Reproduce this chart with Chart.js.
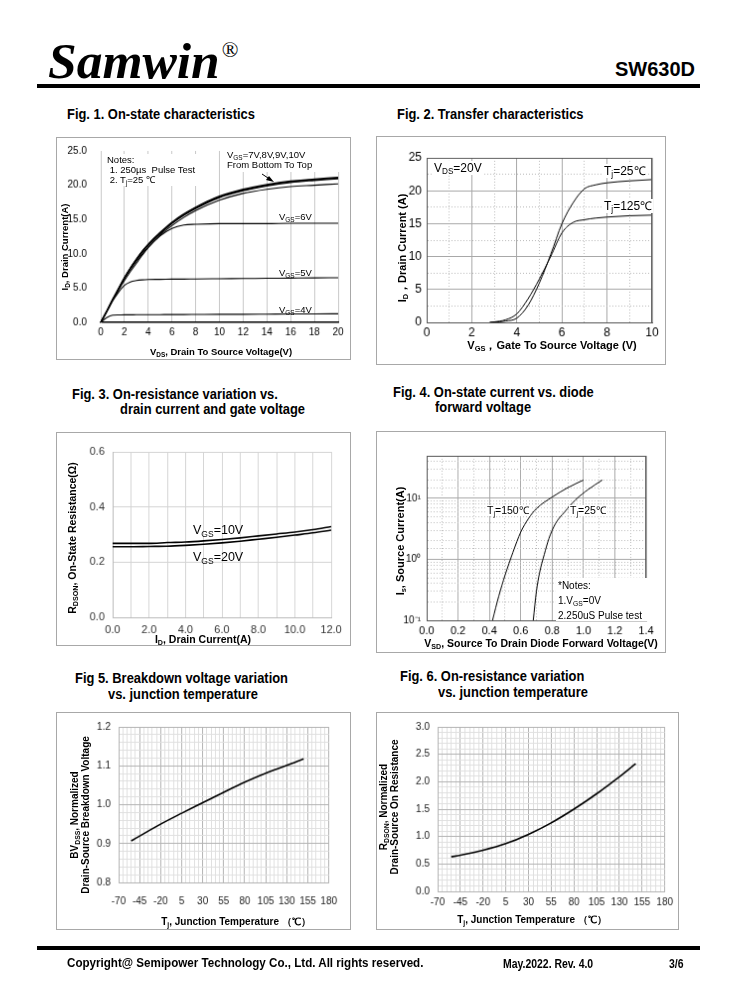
<!DOCTYPE html>
<html>
<head>
<meta charset="utf-8">
<script src="https://cdn.jsdelivr.net/npm/chart.js@4.4.0/dist/chart.umd.min.js"></script>
<style>
html, body { margin: 0; padding: 0; background: #fff; }
body { width: 738px; height: 1000px; position: relative; overflow: hidden; font-family: "Liberation Sans", Arial, sans-serif; color: #000; }
.t { position: absolute; white-space: nowrap; line-height: 1; }
.b { font-weight: bold; }
.n { font-family: "Liberation Sans Narrow", "Arial Narrow", "Liberation Sans", sans-serif; font-weight: bold; transform-origin: 0 0; }
.cx { transform: translateX(-50%); }
.ry { transform: translate(-50%, -50%) rotate(-90deg); text-align: center; }
.w { background: #fff; }
sub { font-size: 0.68em; vertical-align: -0.3em; line-height: 0; }
canvas.c { position: absolute; border: 1px solid #a8a8a8; }
.rule { position: absolute; left: 37px; width: 663px; height: 4px; background: #000; }
.ft { font-size: 14.5px; transform: scaleX(0.89); }
</style>
</head>
<body>

<!-- CABECALHO -->
<div class="t" style="left:48px;top:35px;font-family:'Liberation Serif',serif;font-weight:bold;font-style:italic;font-size:51.5px;">Samwin<span style="font-size:22px;font-style:normal;font-weight:normal;vertical-align:top;position:relative;top:4px;left:2px;">®</span></div>
<div class="t b" style="right:43px;top:59px;font-size:20px;">SW630D</div>
<div class="rule" style="top:84px;"></div>

<!-- TITULOS -->
<div class="t n ft" style="left:67px;top:107px;">Fig. 1. On-state characteristics</div>
<div class="t n ft" style="left:397px;top:107px;">Fig. 2. Transfer characteristics</div>
<div class="t n ft" style="left:72px;top:387px;">Fig. 3. On-resistance variation vs.</div>
<div class="t n ft" style="left:120px;top:402px;">drain current and gate voltage</div>
<div class="t n ft" style="left:393px;top:385px;">Fig. 4. On-state current vs. diode</div>
<div class="t n ft" style="left:435px;top:400px;">forward voltage</div>
<div class="t n ft" style="left:75px;top:671px;">Fig 5. Breakdown voltage variation</div>
<div class="t n ft" style="left:108px;top:687px;">vs. junction temperature</div>
<div class="t n ft" style="left:400px;top:669px;">Fig. 6. On-resistance variation</div>
<div class="t n ft" style="left:438px;top:685px;">vs. junction temperature</div>

<canvas class="c" id="fig1"></canvas>
<canvas class="c" id="fig2"></canvas>
<canvas class="c" id="fig3"></canvas>
<canvas class="c" id="fig4"></canvas>
<canvas class="c" id="fig5"></canvas>
<canvas class="c" id="fig6"></canvas>

<!-- FIG 1 TEXTOS -->
<div class="t w" style="left:104px;top:154px;width:96px;height:32px;"></div>
<div class="t" style="left:107px;top:155px;font-size:9.5px;line-height:10px;">Notes:<br>&nbsp;1. 250µs&nbsp; Pulse Test<br>&nbsp;2. T<sub>j</sub>=25 ℃</div>
<div class="t w" style="left:224px;top:150px;width:118px;height:22px;font-size:9.5px;line-height:10px;padding-left:3px;">V<sub>GS</sub>=7V,8V,9V,10V<br>From Bottom To Top</div>
<svg class="t" style="left:0;top:0;" width="738" height="1000"><line x1="262" y1="174" x2="271" y2="180" stroke="#000" stroke-width="1"/><polygon points="274,182 266,180 269,176" fill="#000"/></svg>
<div class="t" style="left:279px;top:212px;font-size:9.5px;">V<sub>GS</sub>=6V</div>
<div class="t" style="left:279px;top:268px;font-size:9.5px;">V<sub>GS</sub>=5V</div>
<div class="t" style="left:279px;top:305px;font-size:9.5px;">V<sub>GS</sub>=4V</div>
<div class="t b cx" style="left:221px;top:347px;font-size:9.5px;">V<sub>DS</sub>, Drain To Source Voltage(V)</div>
<div class="t b ry" style="left:65px;top:247px;font-size:9.5px;">I<sub>D</sub>, Drain Current(A)</div>

<!-- FIG 2 TEXTOS -->
<div class="t w" style="left:432px;top:161px;font-size:12px;padding:1px 2px;">V<sub>DS</sub>=20V</div>
<div class="t w" style="left:603px;top:164px;font-size:12px;padding:1px 1px;">T<sub>j</sub>=25℃</div>
<div class="t w" style="left:603px;top:199px;font-size:12px;padding:1px 1px;">T<sub>j</sub>=125℃</div>
<div class="t b cx" style="left:552px;top:340px;font-size:11px;">V<sub>GS</sub>，Gate To Source Voltage (V)</div>
<div class="t b ry" style="left:402px;top:248px;font-size:11px;">I<sub>D</sub>，Drain Current (A)</div>

<!-- FIG 3 TEXTOS -->
<div class="t" style="left:193px;top:524px;font-size:12.5px;">V<sub>GS</sub>=10V</div>
<div class="t" style="left:193px;top:551px;font-size:12.5px;">V<sub>GS</sub>=20V</div>
<div class="t b cx" style="left:203px;top:634px;font-size:10.5px;">I<sub>D</sub>, Drain Current(A)</div>
<div class="t b ry" style="left:72px;top:538px;font-size:10.5px;">R<sub>DSON</sub>, On-State Resistance(Ω)</div>

<!-- FIG 4 TEXTOS -->
<div class="t w" style="left:486px;top:505px;font-size:10.5px;padding:0 1px;">T<sub>j</sub>=150℃</div>
<div class="t w" style="left:569px;top:505px;font-size:10.5px;padding:0 1px;">T<sub>j</sub>=25℃</div>
<div class="t w" style="left:556px;top:578px;width:90px;height:43px;font-size:10px;line-height:15px;padding-left:2px;">*Notes:<br>1.V<sub>GS</sub>=0V<br>2.250uS Pulse test</div>
<div class="t b cx" style="left:541px;top:638px;font-size:10.5px;">V<sub>SD</sub>, Source To Drain Diode Forward Voltage(V)</div>
<div class="t b ry" style="left:400px;top:541px;font-size:11px;">I<sub>s</sub>, Source Current(A)</div>

<!-- FIG 5 TEXTOS -->
<div class="t b cx" style="left:236px;top:917px;font-size:10px;">T<sub>j</sub>, Junction Temperature （℃）</div>
<div class="t b ry" style="left:80px;top:815px;font-size:10px;line-height:11px;">BV<sub>DSS</sub>, Normalized<br>Drain-Source Breakdown Voltage</div>

<!-- FIG 6 TEXTOS -->
<div class="t b cx" style="left:532px;top:915px;font-size:10px;">T<sub>j</sub>, Junction Temperature （℃）</div>
<div class="t b ry" style="left:389px;top:807px;font-size:10px;line-height:11px;">R<sub>DSON</sub>, Normalized<br>Drain-Source On Resistance</div>

<!-- RODAPE -->
<div class="rule" style="top:946px;"></div>
<div class="t n" style="left:67px;top:956px;font-size:13.5px;transform:scaleX(0.86);">Copyright@ Semipower Technology Co., Ltd. All rights reserved.</div>
<div class="t n" style="left:503px;top:958px;font-size:12px;transform:scaleX(0.87);">May.2022. Rev. 4.0</div>
<div class="t n" style="left:669px;top:958px;font-size:12px;transform:scaleX(0.87);">3/6</div>

<script>
// DADOS FIG 1 - ON-STATE
const fig1Vds = [0, 0.5, 1, 1.5, 2, 2.5, 3, 3.5, 4, 5, 6, 7, 8, 10, 12, 14, 16, 18, 20];
const fig1Vgs10 = [0, 1.6, 3.3, 4.9, 6.5, 7.9, 9.2, 10.4, 11.4, 13.1, 14.6, 15.8, 16.8, 18.4, 19.4, 20.1, 20.6, 20.9, 21.15];
const fig1Vgs9 = [0, 1.6, 3.3, 4.9, 6.5, 7.9, 9.2, 10.3, 11.3, 13.0, 14.5, 15.7, 16.7, 18.3, 19.3, 20.0, 20.5, 20.8, 21.05];
const fig1Vgs8 = [0, 1.6, 3.3, 4.9, 6.5, 7.9, 9.1, 10.3, 11.3, 12.9, 14.4, 15.6, 16.6, 18.2, 19.2, 19.9, 20.4, 20.7, 20.95];
const fig1Vgs7 = [0, 1.6, 3.2, 4.8, 6.4, 7.7, 8.9, 10.0, 11.0, 12.7, 14.1, 15.3, 16.3, 17.8, 18.8, 19.4, 19.8, 20.0, 20.2];
const fig1Vgs6 = [0, 1.6, 3.2, 4.7, 6.1, 7.4, 8.6, 9.8, 10.9, 12.6, 13.7, 14.2, 14.3, 14.4, 14.4, 14.4, 14.45, 14.45, 14.45];
const fig1Vgs5 = [0, 1.5, 3.1, 4.4, 5.4, 5.9, 6.1, 6.2, 6.25, 6.27, 6.3, 6.31, 6.33, 6.36, 6.39, 6.42, 6.45, 6.48, 6.5];
const fig1Vgs4 = [0, 0.7, 1.05, 1.08, 1.1, 1.1, 1.11, 1.11, 1.12, 1.13, 1.14, 1.14, 1.15, 1.17, 1.18, 1.2, 1.22, 1.23, 1.25];

// DADOS FIG 2 - TRANSFER
const fig2Vgs = [2.8, 3.0, 3.5, 4.0, 4.5, 5.0, 5.5, 6.0, 6.5, 7.0, 7.5, 8.0, 9.0, 10.0];
const fig2Tj25 = [0, 0.03, 0.2, 0.65, 2.6, 6.0, 10.3, 15.0, 18.2, 20.3, 20.9, 21.2, 21.5, 21.7];
const fig2Tj125 = [0, 0.08, 0.4, 1.3, 3.6, 6.6, 10.0, 13.6, 15.2, 15.6, 15.85, 16.0, 16.2, 16.3];

// DADOS FIG 3 - RDSON VS ID
const fig3Id = [0, 1, 2, 3, 4, 5, 6, 7, 8, 9, 10, 11, 12];
const fig3Vgs10 = [0.268, 0.268, 0.268, 0.271, 0.273, 0.277, 0.282, 0.288, 0.295, 0.302, 0.309, 0.318, 0.329];
const fig3Vgs20 = [0.256, 0.256, 0.257, 0.258, 0.261, 0.265, 0.27, 0.276, 0.283, 0.29, 0.298, 0.306, 0.316];

// DADOS FIG 4 - DIODO
const fig4Vsd150 = [0.42, 0.46, 0.50, 0.55, 0.60, 0.65, 0.70, 0.80, 0.90, 1.00];
const fig4Is150 = [0.1, 0.25, 0.55, 1.3, 2.8, 4.7, 6.8, 10.5, 15, 20];
const fig4Vsd25 = [0.68, 0.70, 0.72, 0.75, 0.78, 0.82, 0.88, 0.95, 1.03, 1.12];
const fig4Is25 = [0.1, 0.3, 0.6, 1.2, 2.2, 3.8, 6.0, 9.5, 14, 20];
const fig4Decades = [0.1, 1, 10];
const fig4DecadeLabels = ["10⁻¹", "10⁰", "10¹"];

// DADOS FIG 5 - BVDSS
const fig5Tj = [-55, -20, 5, 30, 55, 80, 105, 130, 150];
const fig5Bv = [0.907, 0.95, 0.978, 1.005, 1.032, 1.058, 1.081, 1.101, 1.118];

// DADOS FIG 6 - RDSON VS TJ
const fig6Tj = [-55, -45, -20, 5, 30, 55, 80, 105, 130, 148];
const fig6Rds = [0.63, 0.66, 0.75, 0.87, 1.04, 1.25, 1.5, 1.78, 2.09, 2.33];

// TICKS DE TEMPERATURA
const tempTicks = [-70, -45, -20, 5, 30, 55, 80, 105, 130, 155, 180];

Chart.defaults.font.family = "'Liberation Sans', Arial, sans-serif";
Chart.defaults.color = "#000";

// MOLDURA DA AREA DO GRAFICO
const frame = {
  id: "frame",
  afterDraw(chart, args, opts) {
    if (!opts || !opts.color) return;
    const a = chart.chartArea;
    const c = chart.ctx;
    c.save();
    c.strokeStyle = opts.color;
    c.lineWidth = opts.width || 1;
    c.strokeRect(a.left + 0.5, a.top + 0.5, a.right - a.left - 1, a.bottom - a.top);
    c.restore();
  },
};
Chart.register(frame);

const pts = (xs, ys) => xs.map((x, i) => ({ x: x, y: ys[i] }));
const near = (v, step) => Math.abs(v / step - Math.round(v / step)) < 1e-6;
const tv = (ctx) => (ctx.tick ? ctx.tick.value : 0);

function line(data, width) {
  return {
    data: data,
    showLine: true,
    pointRadius: 0,
    borderColor: "#000",
    borderWidth: width,
    cubicInterpolationMode: "monotone",
  };
}

// box e area em coordenadas da pagina: [esq, topo, dir, base]
function plotChart(id, box, area, datasets, scales, frameColor) {
  const cv = document.getElementById(id);
  cv.width = box[2] - box[0];
  cv.height = box[3] - box[1];
  cv.style.left = box[0] - 1 + "px";
  cv.style.top = box[1] - 1 + "px";
  scales.x.afterFit = (s) => { s.height = box[3] - area[3]; };
  scales.y.afterFit = (s) => { s.width = area[0] - box[0]; };
  return new Chart(cv, {
    type: "scatter",
    data: { datasets: datasets },
    options: {
      responsive: false,
      animation: false,
      events: [],
      layout: { padding: { top: area[1] - box[1], right: box[2] - area[2], bottom: 0, left: 0 } },
      plugins: { legend: { display: false }, tooltip: { enabled: false }, frame: { color: frameColor } },
      scales: scales,
    },
  });
}

// FIG 1
plotChart("fig1", [57, 138, 352, 361], [101, 151, 340, 324], [
  line(pts(fig1Vds, fig1Vgs10), 1.3),
  line(pts(fig1Vds, fig1Vgs9), 1.3),
  line(pts(fig1Vds, fig1Vgs8), 1.3),
  line(pts(fig1Vds, fig1Vgs7), 1.1),
  line(pts(fig1Vds, fig1Vgs6), 1.1),
  line(pts(fig1Vds, fig1Vgs5), 1.1),
  line(pts(fig1Vds, fig1Vgs4), 1.1),
], {
  x: {
    type: "linear", min: 0, max: 20,
    ticks: { stepSize: 2, font: { size: 10 }, padding: 4, maxRotation: 0 },
    grid: { color: "#c8c8c8", drawTicks: false },
    border: { color: "#000", width: 1.5 },
  },
  y: {
    type: "linear", min: 0, max: 25,
    ticks: { stepSize: 5, font: { size: 10 }, padding: 6, callback: (v) => v.toFixed(1) },
    grid: { display: false },
    border: { color: "#c8c8c8" },
  },
});

// FIG 2
plotChart("fig2", [377, 137, 667, 366], [427, 158, 654, 324], [
  line(pts(fig2Vgs, fig2Tj25), 1),
  line(pts(fig2Vgs, fig2Tj125), 1),
], {
  x: {
    type: "linear", min: 0, max: 10,
    ticks: { stepSize: 1, autoSkip: false, maxRotation: 0, font: { size: 12 }, padding: 3, callback: (v) => (near(v, 2) ? String(v) : "") },
    grid: { color: (c) => (near(tv(c), 2) ? "#a8a8a8" : "#b8b8b8"), drawTicks: false },
    border: { color: "#555", dash: (c) => (near(tv(c), 2) ? [] : [1, 2]) },
  },
  y: {
    type: "linear", min: 0, max: 25,
    ticks: { stepSize: 2.5, autoSkip: false, font: { size: 12 }, padding: 5, callback: (v) => (near(v, 5) ? String(v) : "") },
    grid: { color: (c) => (near(tv(c), 5) ? "#a8a8a8" : "#b8b8b8"), drawTicks: false },
    border: { color: "#555", dash: (c) => (near(tv(c), 5) ? [] : [1, 2]) },
  },
}, "#555");

// FIG 3
plotChart("fig3", [57, 433, 352, 647], [113, 452, 333, 619], [
  line(pts(fig3Id, fig3Vgs10), 1.6),
  line(pts(fig3Id, fig3Vgs20), 1.6),
], {
  x: {
    type: "linear", min: 0, max: 12,
    ticks: { stepSize: 1, autoSkip: false, maxRotation: 0, font: { size: 11 }, color: "#333", padding: 6, callback: (v) => (near(v, 2) ? v.toFixed(1) : "") },
    grid: { color: "#d4d4d4", drawTicks: false },
    border: { color: "#bbb" },
  },
  y: {
    type: "linear", min: 0, max: 0.6,
    ticks: { stepSize: 0.2, font: { size: 11 }, color: "#333", padding: 8, callback: (v) => v.toFixed(1) },
    grid: { color: "#d4d4d4", drawTicks: false },
    border: { color: "#bbb" },
  },
});

// FIG 4
plotChart("fig4", [377, 432, 667, 654], [427, 456, 648, 622], [
  line(pts(fig4Vsd150, fig4Is150), 1),
  line(pts(fig4Vsd25, fig4Is25), 1),
], {
  x: {
    type: "linear", min: 0, max: 1.4,
    ticks: { stepSize: 0.1, autoSkip: false, maxRotation: 0, font: { size: 11 }, padding: 4, callback: (v) => (near(v, 0.2) ? v.toFixed(1) : "") },
    grid: { color: (c) => (near(tv(c), 0.2) ? "#a8a8a8" : "#bcbcbc"), drawTicks: false },
    border: { color: "#555", dash: (c) => (near(tv(c), 0.2) ? [] : [1, 2]) },
  },
  y: {
    type: "logarithmic", min: 0.1, max: 50,
    ticks: {
      autoSkip: false, font: { size: 10 }, padding: 6,
      callback: (v) => {
        const i = fig4Decades.findIndex((d) => Math.abs(d - v) < 1e-9);
        return i >= 0 ? fig4DecadeLabels[i] : "";
      },
    },
    grid: { color: (c) => (fig4Decades.some((d) => Math.abs(d - tv(c)) < 1e-9) ? "#a8a8a8" : "#bcbcbc"), drawTicks: false },
    border: { color: "#555", dash: (c) => (fig4Decades.some((d) => Math.abs(d - tv(c)) < 1e-9) ? [] : [1, 2]) },
  },
}, "#555");

// FIG 5
plotChart("fig5", [57, 713, 352, 931], [119, 727, 339, 884], [
  line(pts(fig5Tj, fig5Bv), 1.6),
], {
  x: {
    type: "linear", min: -70, max: 180,
    ticks: { stepSize: 5, autoSkip: false, maxRotation: 0, minRotation: 0, font: { size: 10 }, color: "#222", padding: 13, callback: (v) => (tempTicks.includes(Math.round(v)) && near(v, 5) ? String(Math.round(v)) : "") },
    grid: { color: (c) => (tempTicks.includes(Math.round(tv(c))) ? "#b4b4b4" : "#e0e0e0"), drawTicks: false },
    border: { color: "#b4b4b4" },
  },
  y: {
    type: "linear", min: 0.8, max: 1.2,
    ticks: { stepSize: 0.02, autoSkip: false, font: { size: 10 }, color: "#222", padding: 8, callback: (v) => (near(v, 0.1) ? v.toFixed(1) : "") },
    grid: { color: (c) => (near(tv(c), 0.1) ? "#b4b4b4" : "#e0e0e0"), drawTicks: false },
    border: { color: "#b4b4b4" },
  },
});

// FIG 6
plotChart("fig6", [377, 713, 680, 931], [438, 725, 670, 893], [
  line(pts(fig6Tj, fig6Rds), 1.6),
], {
  x: {
    type: "linear", min: -70, max: 180,
    ticks: { stepSize: 5, autoSkip: false, maxRotation: 0, minRotation: 0, font: { size: 10 }, color: "#222", padding: 5, callback: (v) => (tempTicks.includes(Math.round(v)) && near(v, 5) ? String(Math.round(v)) : "") },
    grid: { color: (c) => (tempTicks.includes(Math.round(tv(c))) ? "#b4b4b4" : "#e0e0e0"), drawTicks: false },
    border: { color: "#b4b4b4" },
  },
  y: {
    type: "linear", min: 0, max: 3,
    ticks: { stepSize: 0.1, autoSkip: false, font: { size: 10 }, color: "#222", padding: 8, callback: (v) => (near(v, 0.5) ? v.toFixed(1) : "") },
    grid: { color: (c) => (near(tv(c), 0.5) ? "#b4b4b4" : "#e0e0e0"), drawTicks: false },
    border: { color: "#b4b4b4" },
  },
});
</script>
</body>
</html>
